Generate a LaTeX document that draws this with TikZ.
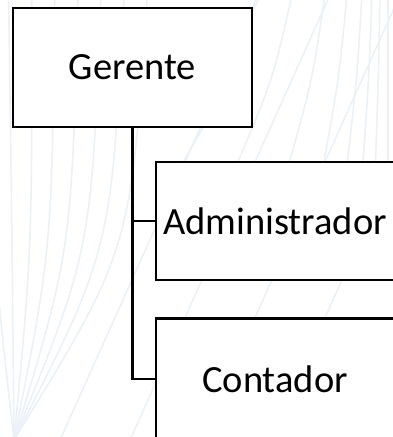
\documentclass[tikz,border=0pt]{standalone}
\usepackage{fontspec}
\setmainfont{Carlito}
\definecolor{bgline}{HTML}{EBF1F6}
\tikzset{
  orgbox/.style={draw=black, line width=2.6pt, fill=white, rectangle,
    minimum width=239pt, inner sep=0pt, font=\fontsize{38.5}{40}\selectfont},
  link/.style={draw=black, line width=2.6pt},
  deco/.style={draw=bgline, line width=1.6pt}
}
\begin{document}
\begin{tikzpicture}[x=1pt,y=-1pt]
\useasboundingbox (0,0) rectangle (393,437);
\clip (0,0) rectangle (393,437);
% faint background pattern
\foreach \t in {-10,12,34,56,78,100,122,144} {
  \draw[deco] (14,440) .. controls ({14+(\t-14)*0.9},250) .. ({\t*1.05-4},-5);
}
\foreach \s in {60,130,200,270,340} {
  \draw[deco] (\s,440) -- (\s+200,-5);
}
\foreach \u in {257,292,325,347,362,372,380,388} {
  \draw[deco] ({\u-(388-\u)*0.6},170) .. controls ({\u-(388-\u)*0.2},80) .. (\u,-5);
}
% boxes
\node[orgbox, minimum height=119pt] (ger) at (132.5,67.5) {Gerente};
\node[orgbox, minimum width=245pt, minimum height=118pt] (adm) at (278.5,221) {\hspace*{-7pt}Administrador};
\node[orgbox, minimum width=245pt, minimum height=121pt] (con) at (278.5,379) {\hspace*{-7pt}Contador};
% connectors
\draw[link] (ger.south) |- (con.west);
\draw[link] (ger.south |- adm.west) -- (adm.west);
\end{tikzpicture}
\end{document}
